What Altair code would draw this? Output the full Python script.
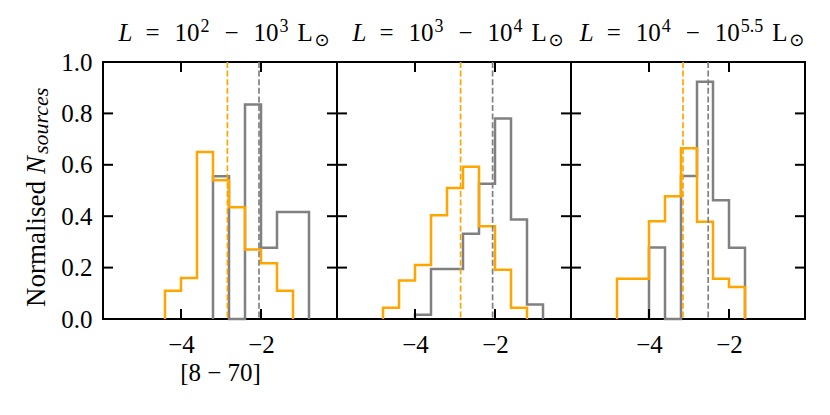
import altair as alt
import pandas as pd

FONT = "Liberation Serif"
SYM_FONT = "DejaVu Sans"
ORANGE = "#FFA500"
GREY = "#808080"

# ---------------- data ----------------
title_exp_lo = ["2", "3", "4"]          # L = 10^lo - 10^hi Lsun
title_exp_hi = ["3", "4", "5.5"]
x_title = "[8 − 70]"
y_title_main = "Normalised"
y_title_var = "N"
y_title_sub = "sources"

x_ticks = [-4, -2]
y_ticks = [0.0, 0.2, 0.4, 0.6, 0.8, 1.0]

# panel 1
p1_orange_edges = [-4.4, -4.0, -3.6, -3.2, -2.8, -2.4, -2.0, -1.6, -1.2]
p1_orange = [0.11, 0.16, 0.65, 0.54, 0.435, 0.27, 0.217, 0.11]
p1_grey_edges = [-3.2, -2.8, -2.4, -2.0, -1.6, -1.2, -0.8]
p1_grey = [0.555, 0.0, 0.835, 0.277, 0.416, 0.416]
p1_median_orange = -2.84
p1_median_grey = -2.05

# panel 2
p2_orange_edges = [-4.8, -4.4, -4.0, -3.6, -3.2, -2.8, -2.4, -2.0, -1.6, -1.2]
p2_orange = [0.044, 0.15, 0.21, 0.404, 0.51, 0.592, 0.361, 0.192, 0.044]
p2_grey_edges = [-4.0, -3.6, -3.2, -2.8, -2.4, -2.0, -1.6, -1.2, -0.8]
p2_grey = [0.017, 0.195, 0.195, 0.332, 0.526, 0.78, 0.387, 0.056]
p2_median_orange = -2.86
p2_median_grey = -2.06

# panel 3
p3_orange_edges = [-4.8, -4.4, -4.0, -3.6, -3.2, -2.8, -2.4, -2.0, -1.6]
p3_orange = [0.157, 0.157, 0.38, 0.478, 0.664, 0.378, 0.157, 0.125]
p3_grey_edges = [-4.0, -3.6, -3.2, -2.8, -2.4, -2.0, -1.6]
p3_grey = [0.278, 0.0, 0.556, 0.923, 0.462, 0.277]
p3_median_orange = -3.15
p3_median_grey = -2.52

panels = [
    (p1_orange_edges, p1_orange, p1_grey_edges, p1_grey, p1_median_orange, p1_median_grey),
    (p2_orange_edges, p2_orange, p2_grey_edges, p2_grey, p2_median_orange, p2_median_grey),
    (p3_orange_edges, p3_orange, p3_grey_edges, p3_grey, p3_median_orange, p3_median_grey),
]

# ---------------- layout / style ----------------
W, H = 234, 257
TICK = 10
X_DOMAIN = [-5.95, -0.1]
FS = 25
color_scale = alt.Scale(domain=["grey", "orange"], range=[GREY, ORANGE])

# approximate advance widths (em) for Liberation Serif / DejaVu Sans
CW = {"0": .5, "1": .5, "2": .5, "3": .5, "4": .5, "5": .5, ".": .25,
      "=": .564, "−": .564, "L": .611, "⊙": .838}
KINDS = {
    "it": dict(font=FONT, size=FS, style="italic", dy=0.0),
    "rm": dict(font=FONT, size=FS, style="normal", dy=0.0),
    "sup": dict(font=FONT, size=18, style="normal", dy=-9.4),
    "sub": dict(font=SYM_FONT, size=18, style="normal", dy=4.5),
}
GAPS = [0, 13, 15, 1, 15, 15, 1, 9, 1.5]
TITLE_BASE = -20.8


def seg_width(text, kind):
    k = KINDS[kind]
    if kind == "it" and text == "L":
        return 0.556 * k["size"]
    return sum(CW.get(c, .5) for c in text) * k["size"]


def title_layers(idx):
    segs = [("L", "it"), ("=", "rm"), ("10", "rm"), (title_exp_lo[idx], "sup"),
            ("−", "rm"), ("10", "rm"), (title_exp_hi[idx], "sup"), ("L", "rm"), ("⊙", "sub")]
    widths = [seg_width(t, kd) for t, kd in segs]
    total = sum(widths) + sum(GAPS)
    x = W / 2 + 4 - total / 2
    out = []
    for (t, kd), w, g in zip(segs, widths, GAPS):
        x += g
        k = KINDS[kd]
        out.append(
            alt.Chart(pd.DataFrame({"t": [t]})).mark_text(
                font=k["font"], fontSize=k["size"], fontStyle=k["style"],
                align="left", baseline="alphabetic", color="black"
            ).encode(text="t:N", x=alt.value(round(x, 2)), y=alt.value(TITLE_BASE + k["dy"]))
        )
        x += w
    return out


def step_frame(edges, heights, series):
    xs = [edges[0]] + list(edges[:-1]) + [edges[-1]]
    ys = [0.0] + list(heights) + [0.0]
    return pd.DataFrame({"x": xs, "y": ys, "series": series, "i": list(range(len(xs)))})


def make_panel(k):
    oe, oh, ge, gh, mo, mg = panels[k]
    first = k == 0

    def xenc(field):
        return alt.X(f"{field}:Q",
                     scale=alt.Scale(domain=X_DOMAIN, nice=False, zero=False),
                     axis=alt.Axis(values=x_ticks, format="d",
                                   title=x_title if first else None))

    def yenc(field):
        if first:
            ax = alt.Axis(values=y_ticks, format=".1f", title=None, labelFlush=False)
        else:
            ax = None
        return alt.Y(f"{field}:Q", scale=alt.Scale(domain=[0, 1], nice=False, zero=False), axis=ax)

    hist_df = pd.concat([step_frame(ge, gh, "grey"), step_frame(oe, oh, "orange")], ignore_index=True)
    hist = alt.Chart(hist_df).mark_line(interpolate="step-after", strokeWidth=2.5).encode(
        x=xenc("x"), y=yenc("y"),
        color=alt.Color("series:N", scale=color_scale, legend=None),
        detail="series:N",
        order=alt.Order("i:Q"),
    )

    med_df = pd.DataFrame({"m": [mg, mo], "series": ["grey", "orange"]})
    meds = alt.Chart(med_df).mark_rule(strokeDash=[6, 2.6], strokeWidth=1.7).encode(
        x=xenc("m"),
        color=alt.Color("series:N", scale=color_scale, legend=None),
    )

    yt = pd.DataFrame({"v": y_ticks})
    xt = pd.DataFrame({"v": x_ticks})
    tick_style = dict(color="black", strokeWidth=2)
    yl = alt.Chart(yt).mark_rule(**tick_style).encode(y=yenc("v"), x=alt.value(0), x2=alt.value(TICK))
    yr = alt.Chart(yt).mark_rule(**tick_style).encode(y=yenc("v"), x=alt.value(W - TICK), x2=alt.value(W))
    xb = alt.Chart(xt).mark_rule(**tick_style).encode(x=xenc("v"), y=alt.value(H), y2=alt.value(H - TICK))
    xtp = alt.Chart(xt).mark_rule(**tick_style).encode(x=xenc("v"), y=alt.value(0), y2=alt.value(TICK))

    layers = [hist, meds, yl, yr, xb, xtp] + title_layers(k)

    if first:
        t1 = alt.Chart(pd.DataFrame({"t": [y_title_main]})).mark_text(
            font=FONT, fontSize=27, angle=270, align="left", baseline="alphabetic", color="black"
        ).encode(text="t:N", x=alt.value(-57.7), y=alt.value(245))
        t2 = alt.Chart(pd.DataFrame({"t": [y_title_var]})).mark_text(
            font=FONT, fontSize=27, fontStyle="italic", angle=270, align="left", baseline="alphabetic", color="black"
        ).encode(text="t:N", x=alt.value(-57.7), y=alt.value(112))
        t3 = alt.Chart(pd.DataFrame({"t": [y_title_sub]})).mark_text(
            font=FONT, fontSize=22, fontStyle="italic", angle=270, align="left", baseline="alphabetic", color="black"
        ).encode(text="t:N", x=alt.value(-55.5), y=alt.value(92))
        layers += [t1, t2, t3]

    return alt.layer(*layers).properties(width=W, height=H)


chart = alt.hconcat(*[make_panel(k) for k in range(3)], spacing=0, bounds="flush").properties(
    padding={"left": 14, "top": 8, "right": 5, "bottom": 5}
).configure_view(
    stroke="black", strokeWidth=2
).configure_axis(
    labelFont=FONT, labelFontSize=FS, labelColor="black",
    titleFont=FONT, titleFontSize=FS, titleColor="black", titleFontWeight="normal",
    grid=False, ticks=False, tickSize=0, domain=False,
).configure_axisX(
    labelPadding=13, titlePadding=3
).configure_axisY(
    labelPadding=11
)

chart.save("out.html", embed_options={"renderer": "svg", "actions": False})
